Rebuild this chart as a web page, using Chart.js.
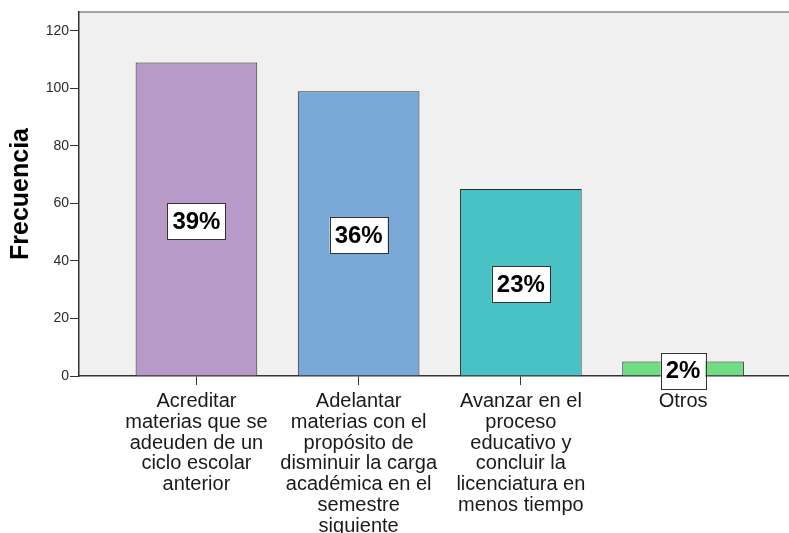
<!DOCTYPE html>
<html>
<head>
<meta charset="utf-8">
<script src="https://cdn.jsdelivr.net/npm/chart.js@4.4.1/dist/chart.umd.min.js"></script>
<style>
  html, body { margin: 0; padding: 0; background: #fff; overflow: hidden; }
  #wrap { width: 789px; height: 533px; position: relative; }
</style>
</head>
<body>
<div id="wrap"><canvas id="chart"></canvas></div>
<script>
/* ---------- Data ---------- */
const categories = [
    ["Acreditar", "materias que se", "adeuden de un", "ciclo escolar", "anterior"],
    ["Adelantar", "materias con el", "propósito de", "disminuir la carga", "académica en el", "semestre", "siguiente"],
    ["Avanzar en el", "proceso", "educativo y", "concluir la", "licenciatura en", "menos tiempo"],
    ["Otros"]
];
const frequencies = [109, 99, 65, 5];
const barColors = ["#b89ac8", "#7aa8d6", "#48c2c4", "#70dc84"];
const yTicks = [0, 20, 40, 60, 80, 100, 120];

const total = frequencies.reduce((a, b) => a + b, 0);
const percentLabels = frequencies.map(v => Math.round(v / total * 100) + "%");

/* ---------- Plugins ---------- */
const plotBackground = {
    id: "plotBackground",
    beforeDraw(chart) {
        const { ctx, chartArea: a } = chart;
        ctx.save();
        ctx.fillStyle = "#f0f0f0";
        ctx.fillRect(a.left, a.top, a.right - a.left, a.bottom - a.top);
        ctx.strokeStyle = "#8a8a8a";
        ctx.lineWidth = 1.5;
        ctx.beginPath();
        ctx.moveTo(a.left, a.top);
        ctx.lineTo(a.right, a.top);
        ctx.stroke();
        ctx.restore();
    }
};

const percentBoxes = {
    id: "percentBoxes",
    afterDatasetsDraw(chart) {
        const ctx = chart.ctx;
        const meta = chart.getDatasetMeta(0);
        ctx.save();
        ctx.font = "bold 24px 'Liberation Sans', Arial, sans-serif";
        ctx.textAlign = "center";
        ctx.textBaseline = "middle";
        meta.data.forEach((bar, i) => {
            const p = bar.getCenterPoint();
            const text = percentLabels[i];
            const w = ctx.measureText(text).width + 10;
            const h = 36;
            const cy = p.y + 2;
            ctx.fillStyle = "#ffffff";
            ctx.fillRect(p.x - w / 2, cy - h / 2, w, h);
            ctx.strokeStyle = "#333333";
            ctx.lineWidth = 1;
            ctx.strokeRect(Math.round(p.x - w / 2) + 0.5, Math.round(cy - h / 2) + 0.5, Math.round(w), h);
            ctx.fillStyle = "#000000";
            ctx.fillText(text, p.x, cy + 1);
        });
        ctx.restore();
    }
};

/* ---------- Chart ---------- */
new Chart(document.getElementById("chart"), {
    type: "bar",
    data: {
        datasets: [{
            label: "Frecuencia",
            data: frequencies.map((v, i) => ({ x: i, y: v })),
            backgroundColor: barColors,
            borderColor: "#2b2b2b",
            borderWidth: 1,
            barPercentage: 1,
            categoryPercentage: 0.75
        }]
    },
    options: {
        responsive: true,
        maintainAspectRatio: false,
        animation: false,
        devicePixelRatio: 1,
        layout: { padding: { top: 12, right: 0, left: 0, bottom: 0 } },
        plugins: {
            legend: { display: false },
            tooltip: { enabled: false }
        },
        scales: {
            x: {
                type: "linear",
                offset: false,
                min: -0.724,
                max: 3.653,
                afterFit(scale) { scale.height = 157; },
                afterBuildTicks(scale) {
                    scale.ticks = categories.map((c, i) => ({ value: i }));
                },
                grid: {
                    offset: false,
                    drawOnChartArea: false,
                    drawTicks: true,
                    tickLength: 9,
                    color: "#333333"
                },
                border: { color: "#333333", width: 1.5 },
                ticks: {
                    autoSkip: false,
                    maxRotation: 0,
                    padding: 6,
                    color: "#1a1a1a",
                    font: { family: "'Liberation Sans', Arial, sans-serif", size: 20, lineHeight: 1.04 },
                    callback: (value) => categories[value] || ""
                }
            },
            y: {
                min: 0,
                max: 126.6,
                afterFit(scale) { scale.width = 79; },
                afterBuildTicks(scale) {
                    scale.ticks = yTicks.map(v => ({ value: v }));
                },
                grid: {
                    drawOnChartArea: false,
                    drawTicks: true,
                    tickLength: 9,
                    color: "#333333"
                },
                border: { color: "#333333", width: 1.5 },
                ticks: {
                    padding: 1,
                    color: "#2a2a2a",
                    font: { family: "'Liberation Sans', Arial, sans-serif", size: 14 }
                },
                title: {
                    display: true,
                    text: "Frecuencia",
                    color: "#000000",
                    padding: { top: 6, bottom: 0 },
                    font: { family: "'Liberation Sans', Arial, sans-serif", size: 25, weight: "bold", lineHeight: 1.2 }
                }
            }
        }
    },
    plugins: [plotBackground, percentBoxes]
});
</script>
</body>
</html>
